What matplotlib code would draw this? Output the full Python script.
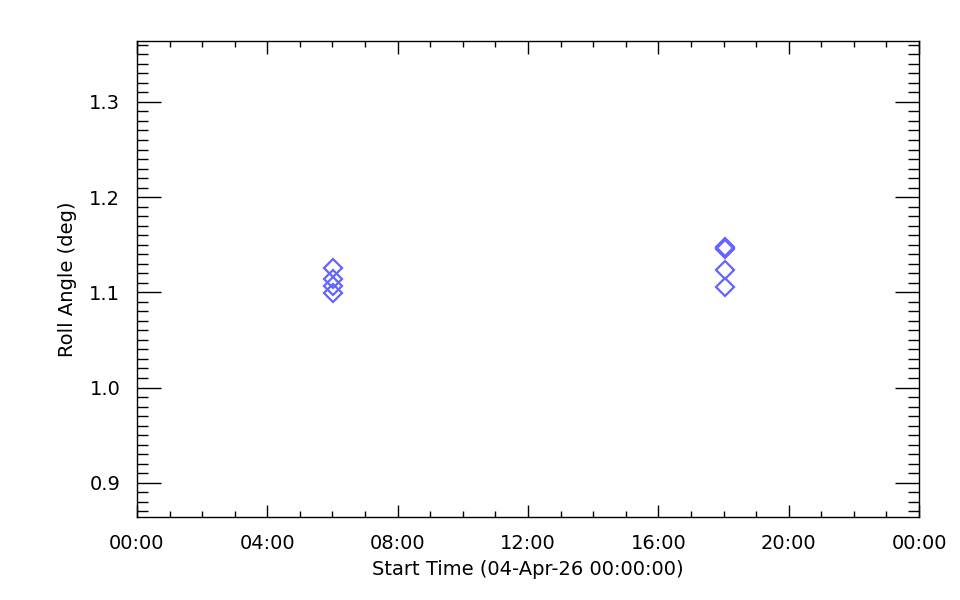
import matplotlib
matplotlib.use("Agg")
import matplotlib.pyplot as plt
from matplotlib.ticker import MultipleLocator, FuncFormatter

# hours after 04-Apr-26 00:00:00
start_hours = [6.03, 6.03, 6.03, 6.03, 18.05, 18.05, 18.05, 18.05]
roll_deg = [1.126, 1.114, 1.107, 1.099, 1.148, 1.145, 1.123, 1.106]

fig = plt.figure(figsize=(9.6, 6), dpi=100)
ax = fig.add_axes([0.1427, 0.1383, 0.8146, 0.7934])

ax.plot(start_hours, roll_deg, linestyle="none", marker="D", markersize=9,
        markerfacecolor="none", markeredgecolor="#6464ff", markeredgewidth=1.6)

ax.set_xlim(0, 24)
ax.set_ylim(0.864, 1.364)

ax.xaxis.set_major_locator(MultipleLocator(4))
ax.xaxis.set_minor_locator(MultipleLocator(1))
ax.xaxis.set_major_formatter(FuncFormatter(lambda v, p: "%02d:00" % (int(round(v)) % 24)))
ax.yaxis.set_major_locator(MultipleLocator(0.1))
ax.yaxis.set_minor_locator(MultipleLocator(0.01))
ax.yaxis.set_major_formatter(FuncFormatter(lambda v, p: "%.1f" % v))

ax.tick_params(which="both", direction="in", top=True, right=True, width=1,
               labelsize=14, pad=12)
ax.tick_params(axis="y", which="major", length=17)
ax.tick_params(axis="y", which="minor", length=8)
ax.tick_params(axis="x", which="major", length=9)
ax.tick_params(axis="x", which="minor", length=4)

for s in ax.spines.values():
    s.set_linewidth(1)

ax.set_xlabel("Start Time (04-Apr-26 00:00:00)", fontsize=14, labelpad=5)
ax.set_ylabel("Roll Angle (deg)", fontsize=14, labelpad=9)

fig.savefig("out.png", dpi=100)
